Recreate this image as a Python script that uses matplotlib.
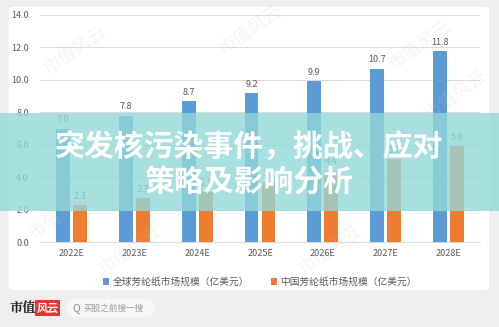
import matplotlib
matplotlib.use("Agg")
import matplotlib.pyplot as plt
import numpy as np
from matplotlib.patches import FancyBboxPatch, Rectangle

plt.rcParams["font.family"] = ["Noto Sans CJK SC", "DejaVu Sans"]

# data
years = ["2022E", "2023E", "2024E", "2025E", "2026E", "2027E", "2028E"]
global_size = [7.0, 7.8, 8.7, 9.2, 9.9, 10.7, 11.8]
china_size = [2.3, 2.7, 3.1, 3.7, 4.4, 5.1, 5.9]
yticks = [0, 2, 4, 6, 8, 10, 12, 14]
legend_labels = ["全球芳纶纸市场规模（亿美元）", "中国芳纶纸市场规模（亿美元）"]
title_lines = ["突发核污染事件，挑战、应对", "策略及影响分析"]

BLUE = "#5B9BD5"
ORANGE = "#ED7D31"
TXT = "#595959"
GRID = "#D9D9D9"

W, H = 499, 327
fig = plt.figure(figsize=(W / 100, H / 100), dpi=100)
fig.patch.set_facecolor("#EFEFEF")

# background card + bottom bar
bg = fig.add_axes([0, 0, 1, 1], zorder=0)
bg.set_xlim(0, W)
bg.set_ylim(H, 0)
bg.axis("off")
bg.add_patch(FancyBboxPatch((8, 6), 482, 285, boxstyle="round,pad=0,rounding_size=6",
                            facecolor="white", edgecolor="#E6E6E6", linewidth=0.6))
bg.text(10, 308, "市值", fontsize=9.5, fontweight="bold", color="#222222",
        va="center", ha="left", family=["Noto Serif CJK SC", "Noto Sans CJK SC"])
bg.add_patch(Rectangle((35, 300), 25, 16, facecolor="#E8342E", edgecolor="none"))
bg.text(47.5, 308, "风云", fontsize=8, color="white", style="italic",
        va="center", ha="center", fontweight="bold")
bg.add_patch(FancyBboxPatch((67, 299), 88, 18, boxstyle="round,pad=0,rounding_size=9",
                            facecolor="#F7F7F7", edgecolor="none"))
bg.text(72, 308, "Q", fontsize=7.5, color="#8C8C8C", va="center", ha="left")
bg.text(84, 308, "买股之前搜一搜", fontsize=6.2, color="#9A9A9A", va="center", ha="left")

# chart
ax = fig.add_axes([40 / W, 1 - 242 / H, 440 / W, 227 / H], zorder=1)
ax.set_facecolor("none")
x = np.arange(len(years))
bw = 0.22
b1 = ax.bar(x - 0.135, global_size, bw, color=BLUE, label=legend_labels[0])
b2 = ax.bar(x + 0.135, china_size, bw, color=ORANGE, label=legend_labels[1])
ax.bar_label(b1, labels=[f"{v:.1f}" for v in global_size], padding=3, fontsize=6.5, color=TXT)
ax.bar_label(b2, labels=[f"{v:.1f}" for v in china_size], padding=3, fontsize=6.5, color=TXT)
ax.set_xlim(-0.5, len(years) - 0.5)
ax.set_ylim(0, 14)
ax.set_yticks(yticks)
ax.set_yticklabels([f"{v:.1f}" for v in yticks])
ax.set_xticks(x)
ax.set_xticklabels(years)
ax.tick_params(axis="both", length=0, labelsize=6.5, colors=TXT)
ax.tick_params(axis="y", pad=8)
ax.tick_params(axis="x", pad=5)
ax.grid(axis="y", color=GRID, linewidth=0.7)
ax.set_axisbelow(True)
for s in ["top", "right", "left"]:
    ax.spines[s].set_visible(False)
ax.spines["bottom"].set_color(GRID)
ax.spines["bottom"].set_linewidth(0.7)
ax.legend(loc="upper center", bbox_to_anchor=(0.5, -0.115), ncol=2, frameon=False,
          fontsize=7, labelcolor=TXT, handlelength=0.6, handleheight=0.6,
          handletextpad=0.4, columnspacing=2.2)

# overlay: watermark + banner
ov = fig.add_axes([0, 0, 1, 1], zorder=2)
ov.set_xlim(0, W)
ov.set_ylim(H, 0)
ov.axis("off")
ov.patch.set_alpha(0)
for (wx, wy) in [(75, 50), (250, 30), (420, 45), (130, 250), (330, 250), (455, 95), (60, 215)]:
    ov.text(wx, wy, "市值风云", fontsize=13, color="#C8C8C8", alpha=0.2, rotation=35,
            ha="center", va="center")
ov.add_patch(Rectangle((0, 113), W, 98, facecolor="#92D8D8", alpha=0.8, edgecolor="none"))
ov.text(249, 148, title_lines[0], fontsize=21.5, fontweight="bold", color="white",
        ha="center", va="center")
ov.text(249, 182, title_lines[1], fontsize=21.5, fontweight="bold", color="white",
        ha="center", va="center")

fig.savefig("out.png", dpi=100)
